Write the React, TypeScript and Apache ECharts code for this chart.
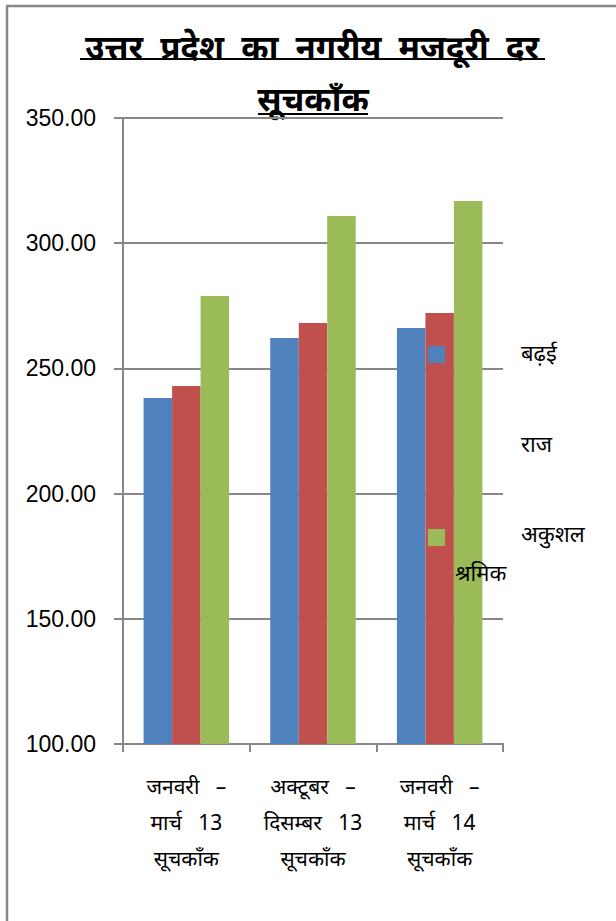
import React, { useEffect, useRef } from "react";
import * as echarts from "echarts";

const categories = [
  "जनवरी   –\nमार्च   13\nसूचकॉंक",
  "अक्टूबर   –\nदिसम्बर   13\nसूचकॉंक",
  "जनवरी   –\nमार्च   14\nसूचकॉंक",
];
const seriesNames = ["बढ़ई", "राज", "अकुशल श्रमिक"];
const carpenter = [238.2, 262.1, 266.1];
const mason = [243.0, 268.1, 272.1];
const unskilled = [278.9, 310.9, 316.9];
const colors = ["#4F81BD", "#C0504D", "#9BBB59"];
const titleLines = ["उत्तर  प्रदेश  का  नगरीय  मजदूरी  दर", "सूचकॉंक"];

const DEVA = "'Noto Sans', 'Noto Sans Devanagari', 'Lohit Devanagari', sans-serif";

export default function App() {
  const ref = useRef<HTMLDivElement>(null);
  useEffect(() => {
    if (!ref.current) return;
    const chart = echarts.init(ref.current, undefined, { renderer: "svg" });
    const gray = "#878787";
    chart.setOption({
      animation: false,
      backgroundColor: "#ffffff",
      grid: { left: 123, right: 113, top: 118, bottom: 177, containLabel: false },
      xAxis: {
        type: "category",
        data: categories,
        axisLine: { lineStyle: { color: gray, width: 2 } },
        axisTick: { show: true, length: 8, lineStyle: { color: gray, width: 2 } },
        axisLabel: {
          color: "#000",
          fontFamily: DEVA,
          fontSize: 21,
          lineHeight: 36,
          margin: 24,
          interval: 0,
        },
      },
      yAxis: {
        type: "value",
        min: 100,
        max: 350,
        interval: 50,
        axisLine: { show: true, lineStyle: { color: gray, width: 2 } },
        axisTick: { show: true, length: 9, lineStyle: { color: gray, width: 2 } },
        splitLine: { show: true, lineStyle: { color: gray, width: 2 } },
        axisLabel: {
          color: "#000",
          fontFamily: "'Liberation Sans', Arial, sans-serif",
          fontSize: 23,
          margin: 27,
          formatter: (v: number) => v.toFixed(2),
        },
      },
      series: [carpenter, mason, unskilled].map((d, i) => ({
        name: seriesNames[i],
        type: "bar",
        data: d,
        barGap: "0%",
        barCategoryGap: "32.5%",
        itemStyle: { color: colors[i] },
      })),
      graphic: [
        // outer border
        { type: "line", shape: { x1: 7, y1: 6, x2: 7, y2: 921 }, style: { stroke: gray, lineWidth: 2.5 } },
        { type: "line", shape: { x1: 6, y1: 6, x2: 616, y2: 6 }, style: { stroke: gray, lineWidth: 2.5 } },
        // title
        {
          type: "text",
          x: 312,
          y: 46,
          style: {
            text: titleLines[0],
            fontFamily: DEVA,
            fontSize: 33,
            fontWeight: "bold",
            fill: "#000",
            align: "center",
            verticalAlign: "middle",
          },
        },
        { type: "line", shape: { x1: 80, y1: 59, x2: 545, y2: 59 }, style: { stroke: "#000", lineWidth: 2 } },
        {
          type: "text",
          x: 313,
          y: 98,
          style: {
            text: titleLines[1],
            fontFamily: DEVA,
            fontSize: 33,
            fontWeight: "bold",
            fill: "#000",
            align: "center",
            verticalAlign: "middle",
          },
        },
        { type: "line", shape: { x1: 258, y1: 114, x2: 368, y2: 114 }, style: { stroke: "#000", lineWidth: 2 } },
        // legend
        { type: "rect", z: 100, shape: { x: 428, y: 346, width: 17, height: 17 }, style: { fill: colors[0] } },
        { type: "rect", z: 100, shape: { x: 428, y: 437, width: 17, height: 17 }, style: { fill: colors[1] } },
        { type: "rect", z: 100, shape: { x: 428, y: 529, width: 17, height: 17 }, style: { fill: colors[2] } },
        {
          type: "text", z: 100, x: 521, y: 352,
          style: { text: seriesNames[0], fontFamily: DEVA, fontSize: 22, fill: "#000", verticalAlign: "middle" },
        },
        {
          type: "text", z: 100, x: 521, y: 443,
          style: { text: seriesNames[1], fontFamily: DEVA, fontSize: 22, fill: "#000", verticalAlign: "middle" },
        },
        {
          type: "text", z: 100, x: 521, y: 533,
          style: { text: seriesNames[2].split(" ")[0], fontFamily: DEVA, fontSize: 22, fill: "#000", verticalAlign: "middle" },
        },
        {
          type: "text", z: 100, x: 455, y: 572,
          style: { text: seriesNames[2].split(" ")[1], fontFamily: DEVA, fontSize: 22, fill: "#000", verticalAlign: "middle" },
        },
      ],
    });
    return () => chart.dispose();
  }, []);
  return (
    <div
      ref={ref}
      style={{ position: "fixed", left: 0, top: 0, width: 616, height: 921 }}
    />
  );
}
